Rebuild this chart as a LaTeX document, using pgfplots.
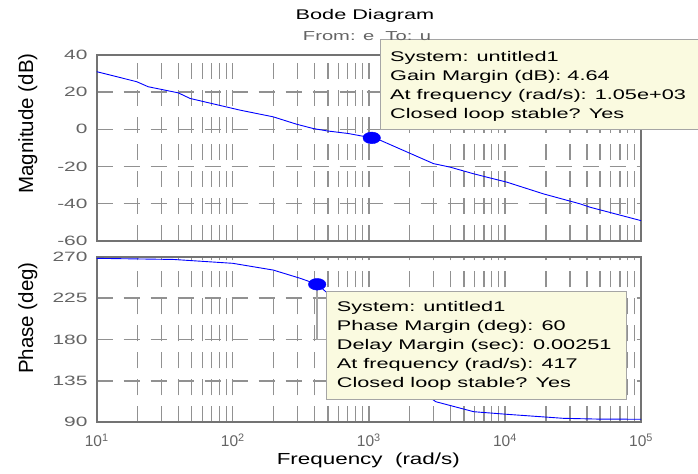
\documentclass[border=0pt]{standalone}
\usepackage{fontspec}
\setmainfont{Liberation Sans}[FakeStretch=1.55]
\newfontfamily\rotfont{Liberation Sans}
\newfontfamily\xlfont{Liberation Sans}[FakeStretch=1.4]
\usepackage{pgfplots}
\pgfplotsset{compat=1.18}
\definecolor{gridgray}{RGB}{145,145,145}
\definecolor{framegray}{RGB}{115,115,115}
\definecolor{tickgray}{RGB}{100,100,100}
\definecolor{tipfill}{RGB}{250,250,224}
\definecolor{tipedge}{RGB}{165,165,165}
\definecolor{curveblue}{RGB}{0,0,255}

\begin{document}
\begin{tikzpicture}[x=1bp,y=1bp]
\useasboundingbox (0,0) rectangle (698,474);

% Magnitude
\begin{axis}[
  scale only axis, width=544.3bp, height=185.7bp,
  at={(96.7bp,233.3bp)}, anchor=south west,
  xmode=log, xmin=10, xmax=100000, ymin=-60, ymax=40,
  axis line style={draw=framegray, line width=1.8bp},
  major tick length=0pt, minor tick length=0pt,
  xtick={10,100,1000,10000,100000}, xticklabels={},
  minor xtick={20,30,40,50,60,70,80,90,200,300,400,500,600,700,800,900,2000,3000,4000,5000,6000,7000,8000,9000,20000,30000,40000,50000,60000,70000,80000,90000},
  ytick={-60,-40,-20,0,20,40}, yticklabels={-60,-40,-20,0,20,40},
  xmajorgrids, xminorgrids, ymajorgrids,
  major grid style={draw=gridgray, line width=1.3bp, dash pattern=on 16bp off 11bp},
  minor grid style={draw=gridgray, line width=1.3bp, dash pattern=on 16bp off 11bp},
  yticklabel style={font=\fontsize{13.5bp}{13.5bp}\selectfont, text=tickgray, anchor=east, inner sep=0pt, xshift=-9bp},
  ]
\addplot[curveblue, line width=0.9bp] coordinates {
(10,31) (19.7,25.6) (23.9,22.9) (39.8,19.6) (48.5,16.6) (90,12) (113,10.3)
(198,6.7) (295,2.7) (390,0.4) (495,-0.9) (708,-2.3) (1050,-4.64) (1211,-5.9)
(2985,-18.5) (3960,-20.4) (5900,-24) (10350,-28.5) (19200,-34.8) (35800,-40.2)
(42300,-42) (100000,-49.2)};
\addplot[only marks, mark=*, mark size=5.85bp, color=curveblue, mark options={xscale=1.5}] coordinates {(1050,-4.64)};
\end{axis}

% Phase
\begin{axis}[
  scale only axis, width=544.3bp, height=165.6bp,
  at={(96.7bp,51.7bp)}, anchor=south west,
  xmode=log, xmin=10, xmax=100000, ymin=90, ymax=270,
  axis line style={draw=framegray, line width=1.8bp},
  major tick length=0pt, minor tick length=0pt,
  xtick={10,100,1000,10000,100000},
  xticklabels={10\textsuperscript{1},10\textsuperscript{2},10\textsuperscript{3},10\textsuperscript{4},10\textsuperscript{5}},
  minor xtick={20,30,40,50,60,70,80,90,200,300,400,500,600,700,800,900,2000,3000,4000,5000,6000,7000,8000,9000,20000,30000,40000,50000,60000,70000,80000,90000},
  ytick={90,135,180,225,270}, yticklabels={90,135,180,225,270},
  xmajorgrids, xminorgrids, ymajorgrids,
  major grid style={draw=gridgray, line width=1.3bp, dash pattern=on 16bp off 11bp},
  minor grid style={draw=gridgray, line width=1.3bp, dash pattern=on 16bp off 11bp},
  yticklabel style={font=\fontsize{13.5bp}{13.5bp}\selectfont, text=tickgray, anchor=east, inner sep=0pt, xshift=-9bp},
  xticklabel style={font=\rotfont\fontsize{15.5bp}{15.5bp}\selectfont, text=tickgray, anchor=base, inner sep=0pt, yshift=-24.5bp},
  ]
\addplot[curveblue, line width=0.9bp] coordinates {
(10,268.2) (36.6,267) (100,262.8) (198,255.5) (313,246.5) (417,240)
(500,230) (700,205) (1000,178) (1500,150) (2000,133) (3100,112.4)
(5900,101.5) (10300,98.7) (27000,94.3) (48000,93.5) (100000,93.3)};
\draw[tipedge, line width=1.5bp] (axis cs:417,240) -- (axis cs:417,180) -- (axis cs:484,180);
\addplot[only marks, mark=*, mark size=5.85bp, color=curveblue, mark options={xscale=1.5}] coordinates {(417,240)};
\end{axis}

% titles and labels
\node[anchor=base, inner sep=0pt] at (365,454) {\fontsize{14bp}{14bp}\selectfont Bode Diagram};
\node[anchor=base, inner sep=0pt] at (368.3,9) {\xlfont\fontsize{16bp}{16bp}\selectfont Frequency\ \ (rad/s)};
\node[anchor=base, inner sep=0pt, rotate=90] at (33,350.5) {\rotfont\fontsize{20.5bp}{20.5bp}\selectfont Magnitude (dB)};
\node[anchor=base, inner sep=0pt, rotate=90] at (33,156) {\rotfont\fontsize{20.5bp}{20.5bp}\selectfont Phase (deg)};

% tooltip 1
\fill[tipfill] (380,344) rectangle (698,434);
\draw[tipedge, line width=1bp] (698,434) -- (380,434) -- (380,344) -- (698,344);
\node[anchor=base, inner sep=0pt, text=tickgray] at (367,433.5) {\fontsize{13bp}{13bp}\selectfont From: e\ \ To: u};
\node[anchor=base west, inner sep=0pt] at (390,412.3) {\fontsize{14bp}{19bp}\selectfont System: untitled1};
\node[anchor=base west, inner sep=0pt] at (390,393.3) {\fontsize{14bp}{19bp}\selectfont Gain Margin (dB): 4.64};
\node[anchor=base west, inner sep=0pt] at (390,374.3) {\fontsize{14bp}{19bp}\selectfont At frequency (rad/s): 1.05e+03};
\node[anchor=base west, inner sep=0pt] at (390,355.3) {\fontsize{14bp}{19bp}\selectfont Closed loop stable? Yes};

% tooltip 2
\fill[tipfill] (326,74) rectangle (626,182.3);
\draw[tipedge, line width=1bp] (326,74) rectangle (626,182.3);
\node[anchor=base west, inner sep=0pt] at (336.7,162) {\fontsize{14bp}{19bp}\selectfont System: untitled1};
\node[anchor=base west, inner sep=0pt] at (336.7,143) {\fontsize{14bp}{19bp}\selectfont Phase Margin (deg): 60};
\node[anchor=base west, inner sep=0pt] at (336.7,124) {\fontsize{14bp}{19bp}\selectfont Delay Margin (sec): 0.00251};
\node[anchor=base west, inner sep=0pt] at (336.7,105) {\fontsize{14bp}{19bp}\selectfont At frequency (rad/s): 417};
\node[anchor=base west, inner sep=0pt] at (336.7,86) {\fontsize{14bp}{19bp}\selectfont Closed loop stable? Yes};
\end{tikzpicture}
\end{document}
